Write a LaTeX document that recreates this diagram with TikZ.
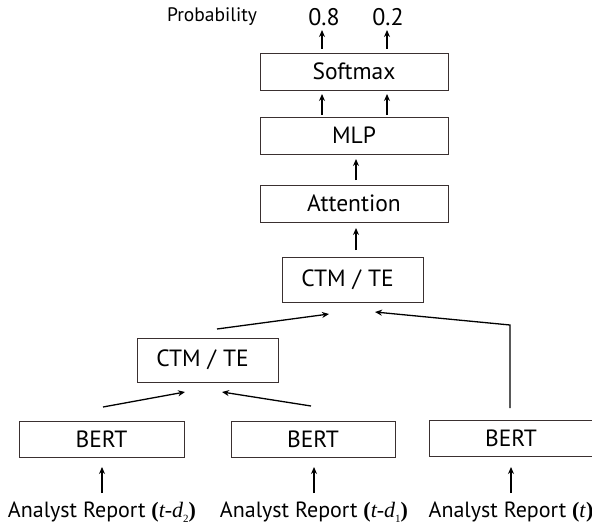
\documentclass[tikz,border=0pt]{standalone}
\usepackage{fontspec}
\setmainfont{PT Sans}
\newfontfamily\serifm{Liberation Serif}
\usetikzlibrary{arrows.meta}
\newcommand\reptime[1]{Analyst Report {\serifm\textbf{(}\itshape #1\upshape\textbf{)}}}
\newcommand\lowsub[1]{\raisebox{-5pt}{\upshape\fontsize{11}{11}\selectfont #1}}
\newcommand\ctmte{CTM\hspace*{7pt}/\hspace*{7pt}TE\hspace*{10pt}}
\definecolor{frame}{HTML}{3A3030}
\begin{document}
\begin{tikzpicture}[x=1pt,y=-1pt,
  box/.style={draw=frame, line width=0.9pt, inner sep=0pt, font=\fontsize{23.5}{27}\selectfont},
  lab/.style={inner sep=0pt, font=\fontsize{22}{26}\selectfont},
  arr/.style={-{Stealth[length=7pt,width=6pt]}, line width=1.3pt}]
\useasboundingbox (0,0) rectangle (592,527);
% labels at top
\node[inner sep=0pt, font=\fontsize{19.5}{22}\selectfont] (prob) at (212,17) {Probability};
\node[inner sep=0pt, font=\fontsize{24}{27}\selectfont] (p1) at (324,17) {0.8};
\node[inner sep=0pt, font=\fontsize{24}{27}\selectfont] (p2) at (388,17) {0.2};
% boxes
\node[box, minimum width=188pt, minimum height=37pt] (soft) at (354,71.5) {Softmax};
\node[box, minimum width=188pt, minimum height=37pt] (mlp) at (354,135.5) {MLP};
\node[box, minimum width=188pt, minimum height=37pt] (att) at (354,203.5) {Attention};
\node[box, minimum width=141pt, minimum height=45pt] (ctm1) at (352.5,279.5) {\ctmte};
\node[box, minimum width=141pt, minimum height=44pt] (ctm2) at (207.5,360) {\ctmte};
\node[box, minimum width=165pt, minimum height=36pt] (b1) at (101.5,439) {BERT};
\node[box, minimum width=164pt, minimum height=36pt] (b2) at (313,439) {BERT};
\node[box, minimum width=164pt, minimum height=36pt] (b3) at (511,438) {BERT};
% report labels
\node[lab, anchor=base] (r1) at (102,517) {\reptime{t-d\lowsub{2}}};
\node[lab, anchor=base] (r2) at (314,517) {\reptime{t-d\lowsub{1}}};
\node[lab, anchor=base] (r3) at (511,517) {\reptime{t}};
% connector end points
\coordinate (s1) at (322,49); \coordinate (t1) at (322,30);
\coordinate (s2) at (387,49); \coordinate (t2) at (387,30);
\coordinate (s3) at (322,115); \coordinate (t3) at (322,94);
\coordinate (s4) at (387,115); \coordinate (t4) at (387,94);
\coordinate (s5) at (356,180); \coordinate (t5) at (356,159);
\coordinate (s6) at (356,250); \coordinate (t6) at (356,228);
\coordinate (s7) at (217,329); \coordinate (t7) at (329,314);
\coordinate (s8) at (510,408); \coordinate (k8) at (510,325); \coordinate (t8) at (375,312);
\coordinate (s9) at (103,407); \coordinate (t9) at (185,392);
\coordinate (s10) at (311,406); \coordinate (t10) at (222,392);
\coordinate (s11) at (102,493); \coordinate (t11) at (102,467);
\coordinate (s12) at (314,493); \coordinate (t12) at (314,467);
\coordinate (s13) at (511,493); \coordinate (t13) at (511,467);
\draw[arr] (s1) -- (t1);
\draw[arr] (s2) -- (t2);
\draw[arr] (s3) -- (t3);
\draw[arr] (s4) -- (t4);
\draw[arr] (s5) -- (t5);
\draw[arr] (s6) -- (t6);
\draw[arr] (s7) -- (t7);
\draw[arr] (s8) -- (k8) -- (t8);
\draw[arr] (s9) -- (t9);
\draw[arr] (s10) -- (t10);
\draw[arr] (s11) -- (t11);
\draw[arr] (s12) -- (t12);
\draw[arr] (s13) -- (t13);
\end{tikzpicture}
\end{document}
